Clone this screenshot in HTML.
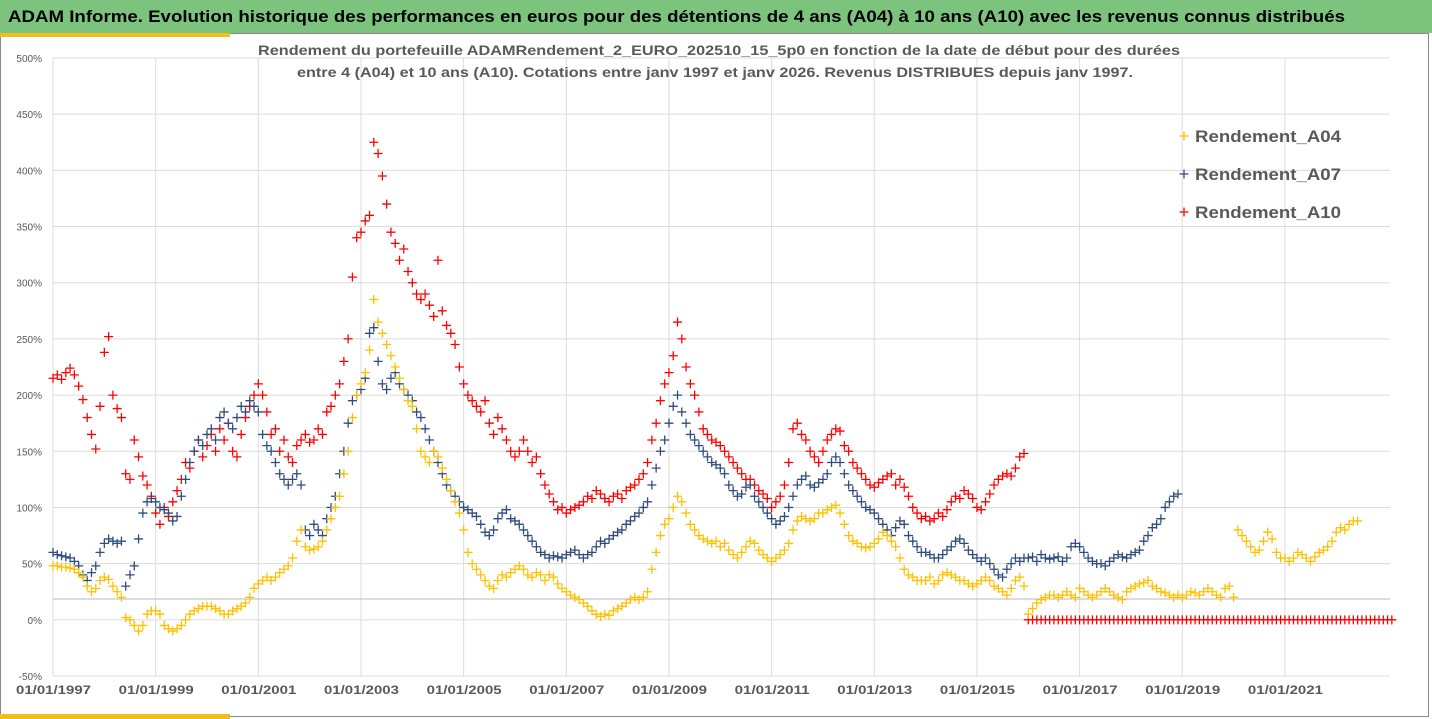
<!DOCTYPE html>
<html><head><meta charset="utf-8"><style>
body{margin:0;background:#fff;font-family:"Liberation Sans",sans-serif;}
#wrap{position:relative;width:1432px;height:719px;overflow:hidden;}
#bar{position:absolute;left:0;top:0;width:1432px;height:33px;background:#7CC47E;}
</style></head><body>
<div id="wrap">
<div id="bar"></div>
<svg id="chart" width="1432" height="719" style="position:absolute;left:0;top:0">
<text x="8" y="22" font-size="17" font-weight="bold" fill="#000" textLength="1337" lengthAdjust="spacingAndGlyphs">ADAM Informe. Evolution historique des performances en euros pour des détentions de 4 ans (A04) à 10 ans (A10) avec les revenus connus distribués</text>
</svg>
</div>
<script>
const tickYears=[1997,1999,2001,2003,2005,2007,2009,2011,2013,2015,2017,2019,2021];
const yTicks=[-50,0,50,100,150,200,250,300,350,400,450,500];
const a04Start=1997;
const a04=[48,48,47,47,46,45,42,38,30,25,28,35,
38,36,30,25,20,2,0,-5,-10,-5,5,8,
8,5,-5,-8,-10,-8,-5,0,5,8,10,12,
12,12,10,8,5,5,8,10,12,15,20,28,
32,35,38,35,38,42,45,48,55,70,80,65,
62,63,65,70,80,90,100,110,130,150,180,200,
210,220,240,285,265,255,245,235,225,215,205,195,
190,170,150,145,140,150,145,135,125,115,105,95,
80,60,50,45,40,35,30,28,35,40,38,42,
45,48,45,40,38,42,40,35,40,38,32,28,
25,22,20,18,15,12,8,5,3,5,4,8,
10,12,15,18,20,18,20,25,45,60,75,85,
90,100,110,105,95,85,80,75,72,70,68,70,
65,68,62,58,55,60,65,70,68,62,58,55,
52,55,58,62,68,80,88,92,90,88,90,95,
95,98,100,102,95,85,75,70,68,65,64,65,
68,72,78,75,70,65,55,45,40,38,35,35,
35,38,32,35,40,42,40,38,35,35,32,30,
32,35,38,35,30,28,25,22,28,35,38,30,
5,10,15,18,20,22,22,20,22,25,22,20,
28,25,22,20,22,25,28,25,22,20,18,25,
28,30,32,33,35,30,28,25,24,22,20,22,
20,22,25,24,22,25,28,25,22,20,28,30,
20,80,75,70,65,60,62,70,78,72,60,55,
55,52,55,60,58,55,52,56,60,62,65,70,
78,82,80,85,88,88];
const a07Start=1997;
const a07=[60,58,57,56,55,52,48,40,35,42,48,60,
68,72,70,68,70,30,40,48,72,95,105,108,
105,100,98,95,88,92,110,125,140,150,160,155,
165,170,160,180,185,175,170,180,190,185,195,190,
185,165,155,150,140,130,125,120,125,130,120,80,
75,85,80,75,90,100,110,130,150,175,195,200,
205,215,255,260,230,210,205,215,220,210,205,200,
195,185,180,170,160,150,140,130,120,115,110,105,
100,98,95,92,85,78,75,80,90,95,98,90,
88,85,80,75,70,65,60,58,55,57,56,55,
58,60,62,58,55,58,60,65,70,68,72,75,
78,80,85,88,92,95,100,105,120,135,150,160,
175,190,200,185,175,165,160,155,150,145,140,138,
135,130,120,115,110,112,118,120,110,105,100,95,
90,85,88,92,100,110,120,125,128,120,118,122,
125,130,140,145,140,130,120,115,110,105,100,98,
95,90,85,80,75,82,88,85,75,70,65,60,
60,58,55,55,58,62,65,70,72,68,62,58,
55,52,55,50,45,40,38,45,50,55,52,55,
55,56,52,58,55,54,55,56,52,55,65,68,
65,60,55,52,50,50,48,52,55,58,56,55,
58,60,62,70,75,82,85,90,100,105,110,112];
const a10Start=1997;
const a10=[215,218,214,220,224,218,208,196,180,165,152,190,
238,252,200,188,180,130,125,160,145,128,120,110,
95,85,100,92,105,115,125,140,135,150,160,145,
155,165,150,170,160,175,150,145,165,180,190,200,
210,200,185,165,170,150,160,145,140,155,160,165,
158,160,170,165,185,190,200,210,230,250,305,340,
345,355,360,425,415,395,370,345,335,320,330,310,
300,290,285,290,280,270,320,275,262,255,245,225,
210,200,195,190,185,195,175,165,180,170,160,150,
145,150,160,150,140,145,130,120,112,105,98,100,
95,98,100,102,105,110,108,115,112,108,105,110,
112,108,115,118,120,125,130,140,160,175,195,210,
220,235,265,250,225,210,200,185,170,165,160,158,
155,150,145,140,135,130,125,125,120,115,112,108,
100,105,110,120,140,170,175,165,160,150,145,140,
150,160,165,170,168,155,150,140,135,130,125,120,
118,122,125,128,130,120,125,118,110,100,95,90,
92,88,90,95,92,98,105,110,108,115,112,108,
100,98,105,112,120,125,128,130,128,135,145,148,
0,0,0,0,0,0,0,0,0,0,0,0,
0,0,0,0,0,0,0,0,0,0,0,0,
0,0,0,0,0,0,0,0,0,0,0,0,
0,0,0,0,0,0,0,0,0,0,0,0,
0,0,0,0,0,0,0,0,0,0,0,0,
0,0,0,0,0,0,0,0,0,0,0,0,
0,0,0,0,0,0,0,0,0,0,0,0,
0,0];
const seriesNames=["Rendement_A04","Rendement_A07","Rendement_A10"];

const NS="http://www.w3.org/2000/svg";
const svg=document.getElementById('chart');
const L=53,R=1390,T=58,B=676;
function xs(y){return L+(y-1997)*51.33;}
function ys(v){return B-(v+50)*(B-T)/550;}
function mk(tag,at){const e=document.createElementNS(NS,tag);for(const k in at)e.setAttribute(k,at[k]);svg.appendChild(e);return e;}

let e=mk('rect',{x:0.5,y:33.5,width:1428,height:683,fill:'none',stroke:'#888'});


e=mk('rect',{x:0,y:33,width:230,height:4,fill:'#F2BE1A'});


e=mk('rect',{x:0,y:714,width:230,height:5,fill:'#F2BE1A'});



yTicks.forEach(v=>{
  const g=mk('line',{x1:L,x2:R,y1:ys(v),y2:ys(v),stroke:'#dcdcdc','stroke-width':1});
  
  
  const t=mk('text',{x:42,y:ys(v)+4,'text-anchor':'end','font-size':10,fill:'#595959'});
  t.textContent=v+'%';
  
  
});
tickYears.forEach(yr=>{
  const g=mk('line',{x1:xs(yr),x2:xs(yr),y1:T,y2:B,stroke:'#dcdcdc','stroke-width':1});
  
  
  const t=mk('text',{x:xs(yr)-37,y:694,'font-size':12,'font-weight':'bold',fill:'#595959',textLength:75,lengthAdjust:'spacingAndGlyphs'});
  t.textContent='01/01/'+yr;
  
  
});
e=mk('line',{x1:L,x2:R,y1:599,y2:599,stroke:'#b8b8b8','stroke-width':1});



const st=mk('text',{x:258,y:55,'font-size':14,'font-weight':'bold',fill:'#595959',textLength:922,lengthAdjust:'spacingAndGlyphs'});
st.textContent='Rendement du portefeuille ADAMRendement_2_EURO_202510_15_5p0  en fonction de la date de début pour des durées';


const st2=mk('text',{x:297,y:77,'font-size':14,'font-weight':'bold',fill:'#595959',textLength:836,lengthAdjust:'spacingAndGlyphs'});
st2.textContent='entre 4 (A04) et 10 ans (A10). Cotations entre janv 1997 et janv 2026. Revenus DISTRIBUES depuis janv 1997.';



function plus(x,y,c,name){
  const p=mk('path',{d:`M${x-4.5},${y}H${x+4.5}M${x},${y-4.5}V${y+4.5}`,stroke:c,'stroke-width':1.3,fill:'none'});
  
  
}
function draw(arr,start,c,name){
  arr.forEach((v,i)=>{ if(v===null)return; plus(xs(start+i/12),ys(v),c,name); });
}
draw(a10,a10Start,'#FF0000','point-a10');
draw(a07,a07Start,'#2F4C7E','point-a07');
draw(a04,a04Start,'#FFC000','point-a04');

const lc=['#FFC000','#2F4C7E','#FF0000'];
seriesNames.forEach((n,i)=>{
  const y=136+i*38;
  plus(1184,y,lc[i],'legend-marker');
  const t=mk('text',{x:1195,y:y+6,'font-size':17,'font-weight':'bold',fill:'#595959',textLength:146,lengthAdjust:'spacingAndGlyphs'});
  t.textContent=n;
  
  
});
</script>
</body></html>
